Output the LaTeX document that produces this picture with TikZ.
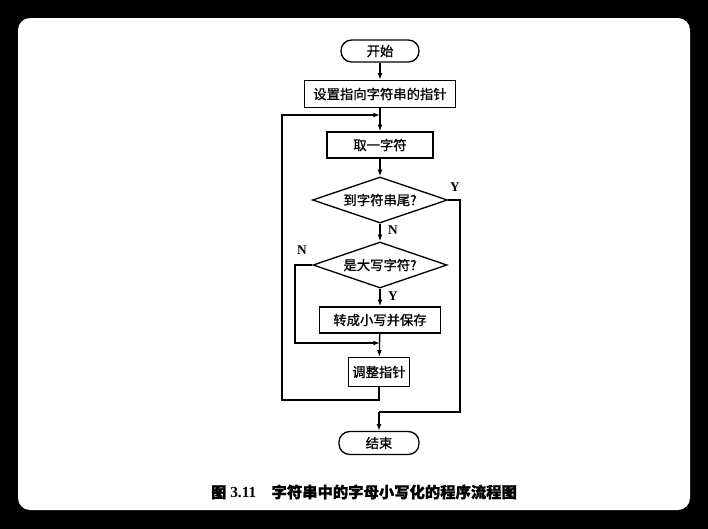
\documentclass[tikz,border=0pt]{standalone}
\usepackage{fontspec}
\setmainfont{Liberation Serif}
\newfontfamily\cjk[FakeBold=1]{Noto Sans CJK SC}
\usetikzlibrary{shapes.geometric,arrows.meta}
\tikzset{
  ln/.style={line width=1pt,black},
  arr/.style={ln,-{Latex[length=5pt,width=3.6pt]}},
  termbox/.style={draw,line width=1pt,rounded corners=8pt,inner sep=0pt,font=\cjk\fontsize{10}{12}\selectfont},
  procbox/.style={draw,line width=1pt,inner sep=0pt,font=\cjk\fontsize{10}{12}\selectfont},
  decbox/.style={draw,diamond,line width=1pt,inner sep=0pt,aspect=2.9,font=\cjk\fontsize{10}{12}\selectfont},
  yn/.style={font=\fontsize{10}{12}\selectfont\bfseries,inner sep=0pt}
}
\begin{document}
\begin{tikzpicture}[x=0.75pt,y=-0.75pt]
\useasboundingbox (0,0) rectangle (708,529);
\fill[black] (0,0) rectangle (708,529);
\fill[white,rounded corners=9pt] (18,18) rectangle (690,510);

\node[termbox,minimum width=58.5pt,minimum height=16.5pt] (start) at (380,51) {开始};
\node[procbox,minimum width=113.25pt,minimum height=20.25pt] (init) at (380,94) {设置指向字符串的指针};
\node[procbox,minimum width=79.5pt,minimum height=19.5pt] (get) at (380,145) {取一字符};
\node[decbox,minimum width=101.25pt,minimum height=34.5pt] (d1) at (380,200) {到字符串尾?};
\node[decbox,minimum width=100.5pt,minimum height=34.5pt] (d2) at (380,265) {是大写字符?};
\node[procbox,minimum width=90.75pt,minimum height=19.5pt] (conv) at (380,320) {转成小写并保存};
\node[procbox,minimum width=45.75pt,minimum height=21.75pt] (adj) at (379,372) {调整指针};
\node[termbox,minimum width=60pt,minimum height=17.25pt] (end) at (379,443) {结束};

\coordinate (j1) at (380,115);
\coordinate (j2) at (380,343);
\coordinate (j3) at (379,412);
\coordinate (lb) at (282,400);
\coordinate (lt) at (282,115);
\coordinate (nb) at (295,343);
\coordinate (rc) at (460,412);

\draw[arr] (start) -- (init);
\draw[arr] (init) -- (get);
\draw[arr] (get) -- (d1);
\draw[arr] (d1) -- (d2);
\draw[arr] (d2) -- (conv);
\draw[arr] (conv) -- (adj);
\draw[arr] (d2.west) -| (nb) -- (j2);
\draw[arr] (adj.south) |- (lb) -- (lt) -- (j1);
\draw[ln] (d1.east) -| (rc) -- (j3);
\draw[arr] (j3) -- (end);

\node[yn] (y1) at (455,187) {Y};
\node[yn] (n1) at (393,230) {N};
\node[yn] (n2) at (302,250) {N};
\node[yn] (y2) at (393,296) {Y};

\node[inner sep=0pt,font=\fontsize{11.5}{14}\selectfont\bfseries] (cap) at (364,492) {{\cjk 图} 3.11\hspace{1em}{\cjk 字符串中的字母小写化的程序流程图}};
\end{tikzpicture}
\end{document}
